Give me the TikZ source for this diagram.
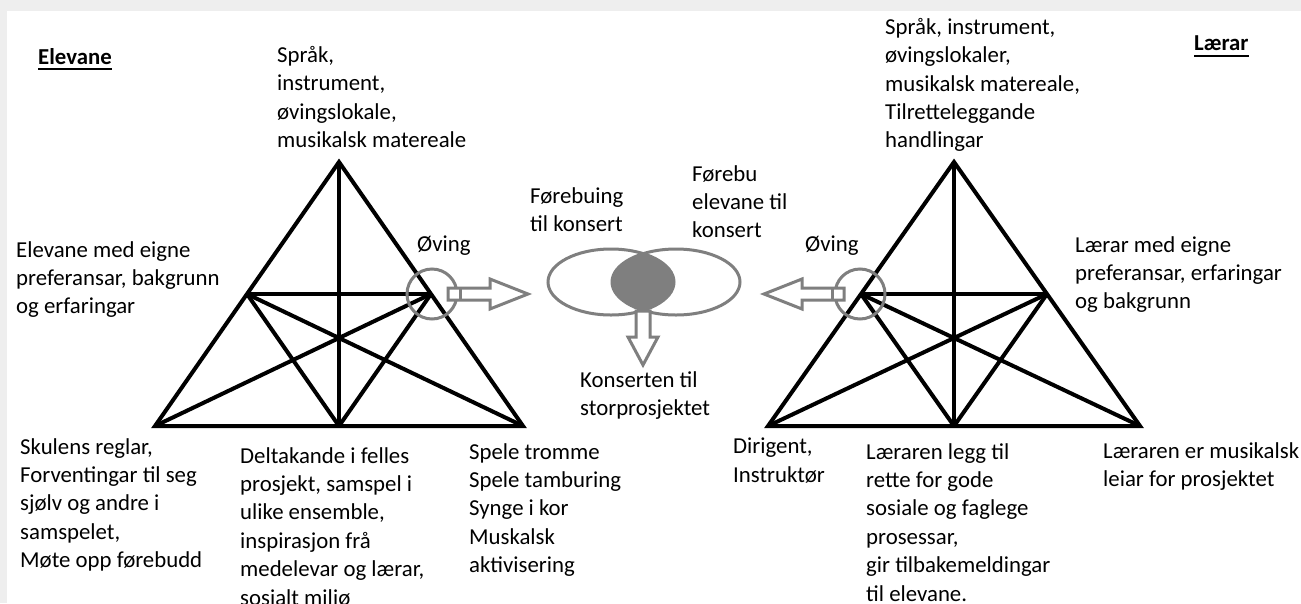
\documentclass[tikz,border=0pt]{standalone}
\usepackage{fontspec}
\setmainfont{Carlito}
\definecolor{grayc}{RGB}{127,127,127}
\definecolor{frame}{RGB}{238,238,238}
\tikzset{
  tri/.style={line width=4pt, line join=miter},
  gr/.style={draw=grayc, line width=3pt},
  blockarrow/.style={draw=grayc, line width=3pt, fill=white, line join=miter},
  lbl/.style={anchor=north west, inner sep=0pt, align=left, font=\fontsize{22.8}{28.4}\selectfont},
  hdr/.style={anchor=north west, inner sep=0pt, font=\fontsize{22.8}{28.4}\selectfont\bfseries},
}
\begin{document}
\begin{tikzpicture}[x=1pt,y=-1pt]
\useasboundingbox (0,0) rectangle (1301,603);
\clip (0,0) rectangle (1301,603);
\fill[frame] (0,0) rectangle (1301,603);
\fill[white] (7,11) rectangle (1301,603);

% ---------- left triangle
\coordinate (A1) at (339,162);
\coordinate (BL1) at (155,426);
\coordinate (BR1) at (523,426);
\coordinate (BM1) at (339,426);
\coordinate (L1) at (247,294);
\coordinate (R1) at (431,294);
\draw[tri] (A1) -- (BL1) -- (BR1) -- cycle;
\draw[tri] (A1) -- (BM1);
\draw[tri] (L1) -- (R1);
\draw[tri] (L1) -- (BR1);
\draw[tri] (R1) -- (BL1);
\draw[tri] (L1) -- (BM1);
\draw[tri] (R1) -- (BM1);

% ---------- right triangle
\coordinate (A2) at (954,162);
\coordinate (BL2) at (768,426);
\coordinate (BR2) at (1140,426);
\coordinate (BM2) at (954,426);
\coordinate (L2) at (861,294);
\coordinate (R2) at (1047,294);
\draw[tri] (A2) -- (BL2) -- (BR2) -- cycle;
\draw[tri] (A2) -- (BM2);
\draw[tri] (L2) -- (R2);
\draw[tri] (L2) -- (BR2);
\draw[tri] (R2) -- (BL2);
\draw[tri] (L2) -- (BM2);
\draw[tri] (R2) -- (BM2);

% ---------- circles
\draw[gr] (432,294) circle [radius=25];
\draw[gr] (860,294) circle [radius=25];

% ---------- block arrows
\draw[blockarrow] (448,288) -- (490,288) -- (490,279) -- (528,294) -- (490,309) -- (490,300) -- (448,300) -- cycle;
\draw[gr] (460,288) -- (460,300);
\draw[blockarrow] (844,288) -- (802,288) -- (802,279) -- (764,294) -- (802,309) -- (802,300) -- (844,300) -- cycle;
\draw[gr] (832,288) -- (832,300);

% ---------- ellipses
\begin{scope}
  \clip (611,282) ellipse [x radius=63, y radius=33];
  \fill[grayc] (676,282) ellipse [x radius=64, y radius=33];
\end{scope}
\draw[gr] (611,282) ellipse [x radius=63, y radius=33];
\draw[gr] (676,282) ellipse [x radius=64, y radius=33];
\draw[blockarrow] (636,311) -- (650,311) -- (650,337) -- (658,337) -- (643,365) -- (628,337) -- (636,337) -- cycle;

% ---------- headers
\node[hdr] (elevane) at (38,48) {Elevane};
\draw[line width=1.8pt] ([yshift=-5pt]elevane.base west) -- ([yshift=-5pt]elevane.base east);
\node[hdr] (laerar) at (1194,36) {Lærar};
\draw[line width=1.8pt] ([yshift=-5pt]laerar.base west) -- ([yshift=-5pt]laerar.base east);

% ---------- labels
\node[lbl] (topL) at (277,46) {Språk,\\instrument,\\øvingslokale,\\musikalsk matereale};
\node[lbl] (midL) at (16,241) {Elevane med eigne\\preferansar, bakgrunn\\og erfaringar};
\node[lbl] (ovingL) at (417,236) {Øving};
\node[lbl] (forebuing) at (530,187) {Førebuing\\til konsert};
\node[lbl] (forebu) at (692,165) {Førebu\\elevane til\\konsert};
\node[lbl] (konserten) at (580,371) {Konserten til\\storprosjektet};
\node[lbl] (topR) at (885,18) {Språk, instrument,\\øvingslokaler,\\musikalsk matereale,\\Tilretteleggande\\handlingar};
\node[lbl] (ovingR) at (805,236) {Øving};
\node[lbl] (midR) at (1075,236) {Lærar med eigne\\preferansar, erfaringar\\og bakgrunn};
\node[lbl] (skulens) at (20,438) {Skulens reglar,\\Forventingar til seg\\sjølv og andre i\\samspelet,\\Møte opp førebudd};
\node[lbl] (deltakande) at (240,447) {Deltakande i felles\\prosjekt, samspel i\\ulike ensemble,\\inspirasjon frå\\medelevar og lærar,\\sosialt miljø};
\node[lbl] (spele) at (469,443) {Spele tromme\\Spele tamburing\\Synge i kor\\Muskalsk\\aktivisering};
\node[lbl] (dirigent) at (733,438) {Dirigent,\\Instruktør};
\node[lbl] (laeraren1) at (866,443) {Læraren legg til\\rette for gode\\sosiale og faglege\\prosessar,\\gir tilbakemeldingar\\til elevane.};
\node[lbl] (laeraren2) at (1103,442) {Læraren er musikalsk\\leiar for prosjektet};
\end{tikzpicture}
\end{document}
